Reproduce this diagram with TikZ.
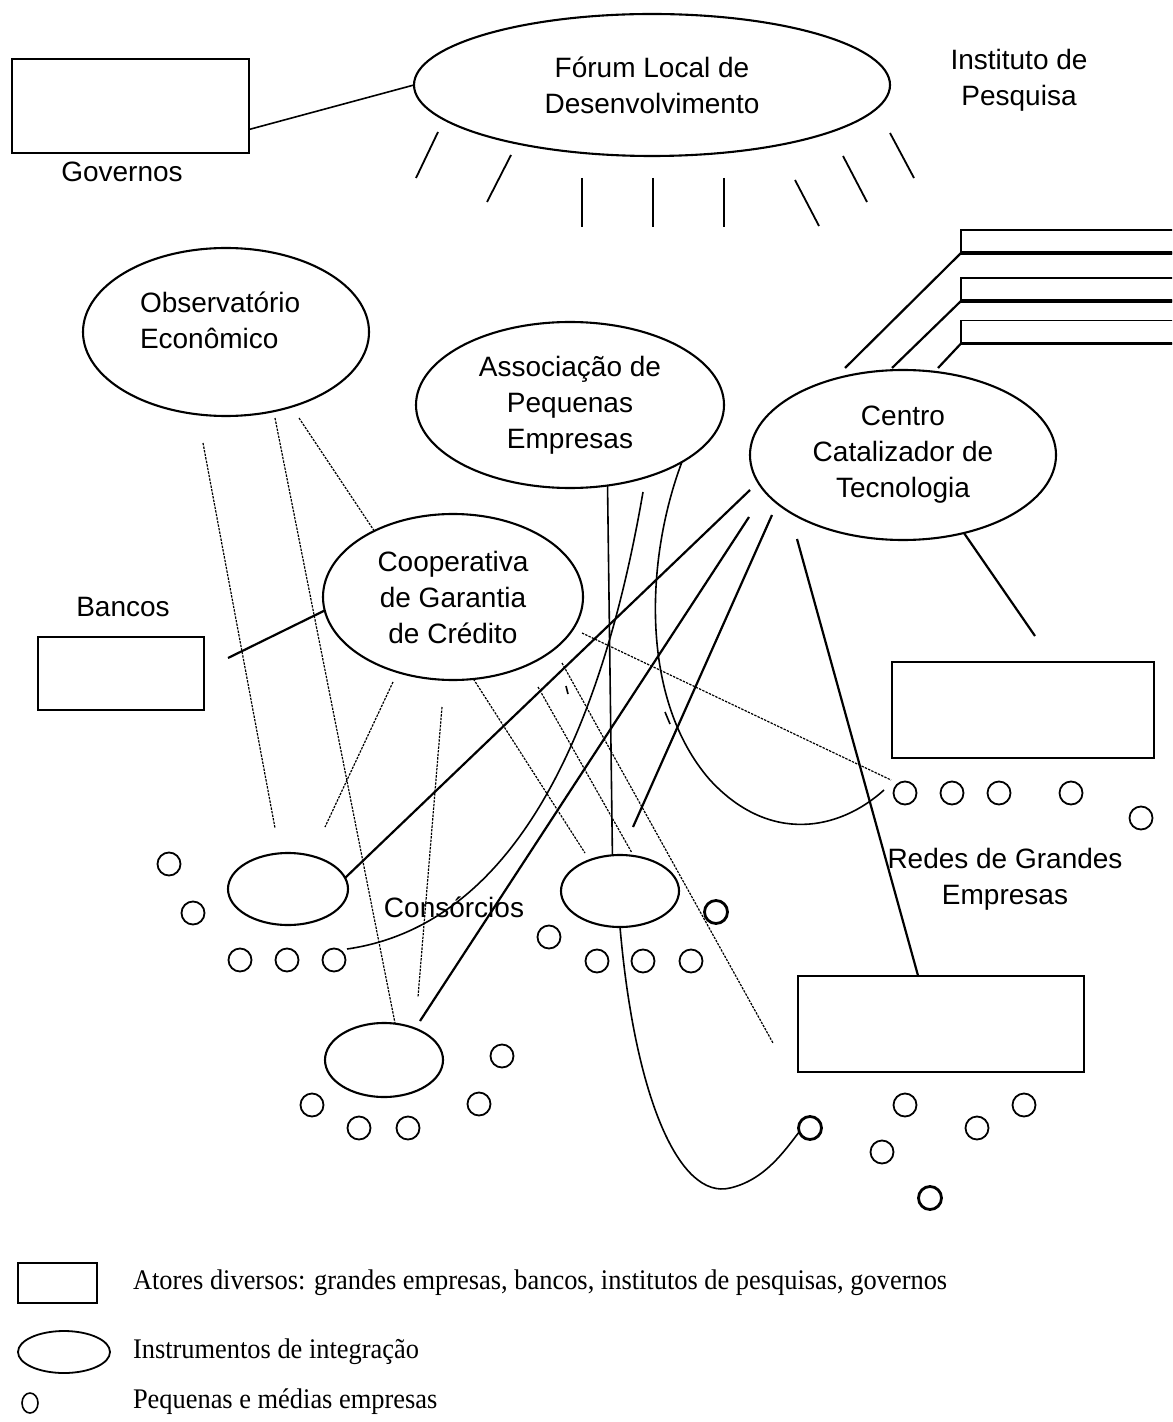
\documentclass[tikz,border=0pt]{standalone}
\usepackage{fontspec}
\setmainfont{Liberation Sans}
\newfontfamily\labelfont{Liberation Sans}
\newfontfamily\legendfont[FakeStretch=0.93]{Liberation Serif}
\usetikzlibrary{shapes.geometric,calc}

\begin{document}
\begin{tikzpicture}[x=0.5pt,y=-0.5pt,
  every node/.style={inner sep=0pt, outer sep=0pt},
  lbl/.style={align=center, font=\labelfont\fontsize{14pt}{18pt}\selectfont},
  instr/.style={draw, ellipse, line width=1.05pt, lbl},
  actor/.style={draw, rectangle, line width=1.2pt},
  pme/.style={draw, circle, line width=0.9pt, minimum size=11.5pt},
  pmebold/.style={pme, line width=1.4pt},
  link/.style={line width=1.1pt},
  thinlink/.style={line width=0.8pt},
  dotlink/.style={line width=0.6pt, dash pattern=on 1.2pt off 0.6pt},
  ray/.style={line width=0.9pt},
  legtext/.style={anchor=west, font=\legendfont\fontsize{14.2pt}{16pt}\selectfont}
]
\fill[white] (0,0) rectangle (1172,1422);
\useasboundingbox (0,0) rectangle (1172,1422);
\clip (0,0) rectangle (1172,1422);

% ---- top: government and local forum
\node[actor, minimum width=118.5pt, minimum height=47pt] (gov) at (130.5,106) {};
\node[lbl] (govT) at (122,172) {Governos};
\node[instr, minimum width=238pt, minimum height=71pt] (forum) at (652,85) {Fórum Local de\\Desenvolvimento};
\node[lbl] (inst) at (1019,80) {Instituto de\\Pesquisa};
\draw[thinlink] ($(gov.south east)!0.25!(gov.north east)$) -- (forum.west);

% rays under the forum
\foreach \a/\b in {{(438,132)}/{(416,178)}, {(511,155)}/{(487,202)},
                   {(582,178)}/{(582,227)}, {(653,178)}/{(653,227)},
                   {(724,178)}/{(724,227)}, {(795,180)}/{(819,226)},
                   {(843,156)}/{(867,202)}, {(890,133)}/{(914,178)}}
  \draw[ray] \a -- \b;

% ---- research institutes (stacked boxes)
\foreach \n/\y in {A/241.5, B/289.5, C/332}{
  \node[actor, line width=0.8pt, minimum width=112pt, minimum height=11.5pt] (res\n) at (1073,\y) {};
  \draw[line width=1.6pt] (res\n.south west) -- (res\n.south east);
}

% ---- integration instruments
\node[instr, minimum width=143pt, minimum height=84pt] (obs) at (226,332) {};
\node[lbl, align=left, anchor=west] (obsT) at (140,320) {Observatório\\Econômico};
\node[instr, minimum width=154pt, minimum height=83pt] (assoc) at (570,405) {Associação de\\Pequenas\\Empresas};
\node[instr, minimum width=153pt, minimum height=85pt] (centro) at (903,455) {Centro\\Catalizador de\\Tecnologia};
\node[instr, minimum width=130pt, minimum height=83pt] (coop) at (453,597) {Cooperativa\\de Garantia\\de Crédito};

% ---- banks and large firms
\node[lbl] (bancosT) at (123,607) {Bancos};
\node[actor, minimum width=83pt, minimum height=36.5pt] (bancos) at (121,673.5) {};
\node[actor, minimum width=131pt, minimum height=48pt] (redes) at (1023,710) {};
\node[lbl] (redesT) at (1005,879) {Redes de Grandes\\Empresas};
\node[actor, minimum width=143pt, minimum height=48pt] (grande) at (941,1024) {};

% ---- consortia
\node[instr, minimum width=60pt, minimum height=36pt] (consL) at (288,889) {};
\node[instr, minimum width=59pt, minimum height=36pt] (consM) at (620,891) {};
\node[instr, minimum width=59pt, minimum height=37pt] (consB) at (384,1060) {};
\node[lbl] (consT) at (454,907) {Consórcios};

% ---- small and medium firms
\node[pme] (l1) at (169,864) {};
\node[pme] (l2) at (193,913) {};
\node[pme] (l3) at (240,960) {};
\node[pme] (l4) at (287,960) {};
\node[pme] (l5) at (334,960) {};
\node[pmebold] (m1) at (716,912) {};
\node[pme] (m2) at (549,937) {};
\node[pme] (m3) at (597,961) {};
\node[pme] (m4) at (643,961) {};
\node[pme] (m5) at (691,961) {};
\node[pme] (b1) at (502,1056) {};
\node[pme] (b2) at (312,1105) {};
\node[pme] (b3) at (479,1104) {};
\node[pme] (b4) at (359,1128) {};
\node[pme] (b5) at (408,1128) {};
\node[pme] (r1) at (905,793) {};
\node[pme] (r2) at (952,793) {};
\node[pme] (r3) at (999,793) {};
\node[pme] (r4) at (1071,793) {};
\node[pme] (r5) at (1141,818) {};
\node[pmebold] (g1) at (810,1128) {};
\node[pme] (g2) at (905,1105) {};
\node[pme] (g3) at (882,1152) {};
\node[pme] (g4) at (977,1128) {};
\node[pme] (g5) at (1024,1105) {};
\node[pmebold] (g6) at (930,1198) {};

% ---- free ends of connectors
\coordinate (ctA) at (845,368);
\coordinate (ctB) at (892,368);
\coordinate (ctC) at (938,368);
\coordinate (rdTop) at (1035,636);
\coordinate (bk) at (228,658);
\coordinate (ceA) at (750,490);
\coordinate (ceB) at (749,517);
\coordinate (ceC) at (772,515);
\coordinate (ceD) at (797,539);
\coordinate (cbTop) at (420,1021);
\coordinate (cmTop) at (633,827);
\coordinate (asA) at (643,492);
\coordinate (clEnd) at (347,949);
\coordinate (rdEnd) at (884,790);
\coordinate (obA) at (203,443);
\coordinate (obB) at (275,418);
\coordinate (obC) at (299,418);
\coordinate (clTopA) at (275,828);
\coordinate (coA) at (393,682);
\coordinate (clTopB) at (325,827);
\coordinate (coB) at (442,707);
\coordinate (cbTopB) at (418,997);
\coordinate (cmTopA) at (585,853);
\coordinate (coC) at (582,633);
\coordinate (rdDot) at (891,780);
\coordinate (coD) at (538,687);
\coordinate (cmTopB) at (632,853);
\coordinate (coE) at (562,663);
\coordinate (grDot) at (773,1043);

% ---- solid connectors
\foreach \s/\t in {resA/ctA, resB/ctB, resC/ctC}
  \draw[link] (\s.south west) -- (\t);
\draw[link] (centro.-52.4) -- (rdTop);
\draw[link] (bk) -- (coop.186.7);
\draw[link] (ceA) -- (consL.11.5);
\draw[link] (ceB) -- (cbTop);
\draw[link] (ceC) -- (cmTop);
\draw[link] (ceD) -- ($(grande.north west)!0.42!(grande.north east)$);
\draw[thinlink] (assoc.-65.4) -- (consM.102.5);
\draw[thinlink] (asA) .. controls (590,800) and (480,930) .. (clEnd);
\draw[thinlink] (assoc.-27) .. controls (645,560) and (640,700) .. (710,780)
                .. controls (770,845) and (840,830) .. (rdEnd);
\draw[thinlink] (consM.south) .. controls (635,1100) and (680,1200) .. (730,1188)
                .. controls (765,1180) and (785,1150) .. (g1.200);
\draw[thinlink] (566,686) -- (568,694);
\draw[thinlink] (665,712) -- (670,724);

% ---- dotted connectors
\draw[dotlink] (obA) -- (clTopA);
\draw[dotlink] (obB) -- (consB.73);
\draw[dotlink] (obC) -- (coop.140.9);
\draw[dotlink] (coA) -- (clTopB);
\draw[dotlink] (coB) -- (cbTopB);
\draw[dotlink] (coop.-76.3) -- (cmTopA);
\draw[dotlink] (coC) -- (rdDot);
\draw[dotlink] (coD) -- (cmTopB);
\draw[dotlink] (coE) -- (grDot);

% ---- legend
\node[actor, line width=0.9pt, minimum width=39.5pt, minimum height=20pt] (legBox) at (57.5,1283) {};
\node[legtext] (legBoxT) at (133,1283) {Atores diversos: grandes empresas, bancos, institutos de pesquisas, governos};
\node[draw, ellipse, line width=0.9pt, minimum width=46pt, minimum height=21pt] (legEll) at (64,1352) {};
\node[legtext] (legEllT) at (133,1352) {Instrumentos de integração};
\node[draw, ellipse, line width=0.8pt, minimum width=8pt, minimum height=10pt] (legPme) at (30,1403) {};
\node[legtext] (legPmeT) at (133,1402) {Pequenas e médias empresas};
\end{tikzpicture}
\end{document}
